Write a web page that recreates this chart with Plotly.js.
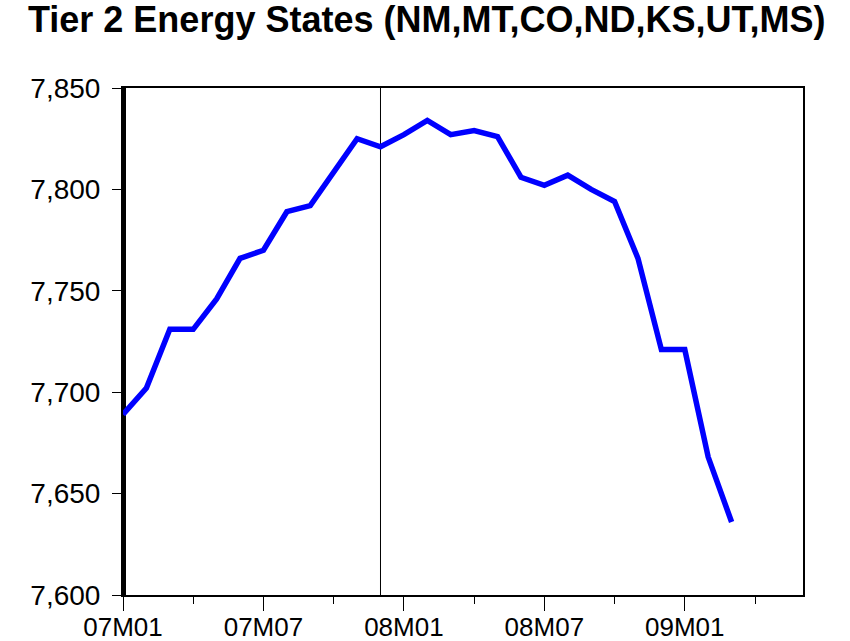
<!DOCTYPE html>
<html>
<head>
<meta charset="utf-8">
<script src="https://cdn.plot.ly/plotly-3.0.1.min.js"></script>
<style>
  html, body { margin: 0; padding: 0; background: #ffffff; }
  #chart { width: 850px; height: 641px; }
</style>
</head>
<body>
<div id="chart"></div>
<script>
// Full monthly axis (07M01 .. 09M06)
const axisMonths = [
  "07M01","07M02","07M03","07M04","07M05","07M06","07M07","07M08","07M09","07M10","07M11","07M12",
  "08M01","08M02","08M03","08M04","08M05","08M06","08M07","08M08","08M09","08M10","08M11","08M12",
  "09M01","09M02","09M03","09M04","09M05","09M06"
];
// Observed months
const months = [
  "07M01","07M02","07M03","07M04","07M05","07M06","07M07","07M08","07M09","07M10","07M11","07M12",
  "08M01","08M02","08M03","08M04","08M05","08M06","08M07","08M08","08M09","08M10","08M11","08M12",
  "09M01","09M02","09M03"
];
// Employment, thousands
const employment = [
  7689, 7702, 7731, 7731, 7746, 7766, 7770, 7789, 7792, 7809, 7825, 7821,
  7827, 7834, 7827, 7829, 7826, 7806, 7802, 7807, 7800, 7794, 7766, 7721,
  7721, 7668, 7636
];
const majorTicks = ["07M01","07M07","08M01","08M07","09M01"];
const minorTicks = ["07M04","07M10","08M04","08M10","09M04"];
const recessionStart = "07M12";
const yTicks = [7600, 7650, 7700, 7750, 7800, 7850];

const xRange = [0, 29.05];

const trace = {
  type: "scatter",
  mode: "lines",
  x: months,
  y: employment,
  line: { color: "#0000ff", width: 5.5 },
  hoverinfo: "x+y"
};

const layout = {
  width: 850,
  height: 641,
  paper_bgcolor: "#ffffff",
  plot_bgcolor: "#ffffff",
  showlegend: false,
  margin: { l: 123, r: 47, t: 88, b: 46 },
  font: { family: "Liberation Sans, Arial, sans-serif", color: "#000000" },
  title: {
    text: "<b>Tier 2 Energy States (NM,MT,CO,ND,KS,UT,MS)</b>",
    font: { family: "Liberation Sans, Arial, sans-serif", size: 36, color: "#000000" },
    xref: "container", x: 0.502, xanchor: "center",
    yref: "container", y: 0.99, yanchor: "top"
  },
  xaxis: {
    type: "category",
    categoryorder: "array",
    categoryarray: axisMonths,
    range: xRange,
    tickmode: "array",
    tickvals: majorTicks,
    ticktext: majorTicks,
    ticks: "outside",
    ticklen: 14,
    tickwidth: 1,
    tickcolor: "#000000",
    tickfont: { size: 26, color: "#000000" },
    ticklabelstandoff: -6,
    showgrid: false,
    zeroline: false,
    showline: true,
    linecolor: "#000000",
    linewidth: 2,
    mirror: true,
    fixedrange: true
  },
  xaxis2: {
    type: "category",
    categoryorder: "array",
    categoryarray: axisMonths,
    overlaying: "x",
    side: "bottom",
    range: xRange,
    tickmode: "array",
    tickvals: minorTicks,
    ticktext: minorTicks.map(() => ""),
    ticks: "outside",
    ticklen: 8,
    tickwidth: 1,
    tickcolor: "#000000",
    showticklabels: false,
    showgrid: false,
    zeroline: false,
    showline: false,
    fixedrange: true
  },
  yaxis: {
    range: [7600, 7850],
    tickmode: "array",
    tickvals: yTicks,
    tickformat: ",d",
    ticks: "outside",
    ticklen: 9,
    tickwidth: 1,
    tickcolor: "#000000",
    tickfont: { size: 28, color: "#000000" },
    ticklabelstandoff: 6,
    showgrid: false,
    zeroline: false,
    showline: true,
    linecolor: "#000000",
    linewidth: 2,
    mirror: true,
    fixedrange: true
  },
  shapes: [
    {
      type: "line", xref: "x", yref: "paper",
      x0: months[0], x1: months[0], y0: 0, y1: 1,
      line: { color: "#000000", width: 6 }, layer: "below"
    },
    {
      type: "line", xref: "x", yref: "paper",
      x0: recessionStart, x1: recessionStart, y0: 0, y1: 1,
      line: { color: "#000000", width: 1 }, layer: "below"
    }
  ]
};

const minorTrace = {
  type: "scatter", mode: "lines", x: [], y: [], xaxis: "x2", yaxis: "y",
  hoverinfo: "skip", showlegend: false
};

Plotly.newPlot("chart", [trace, minorTrace], layout, { displayModeBar: false, staticPlot: true });
</script>
</body>
</html>
